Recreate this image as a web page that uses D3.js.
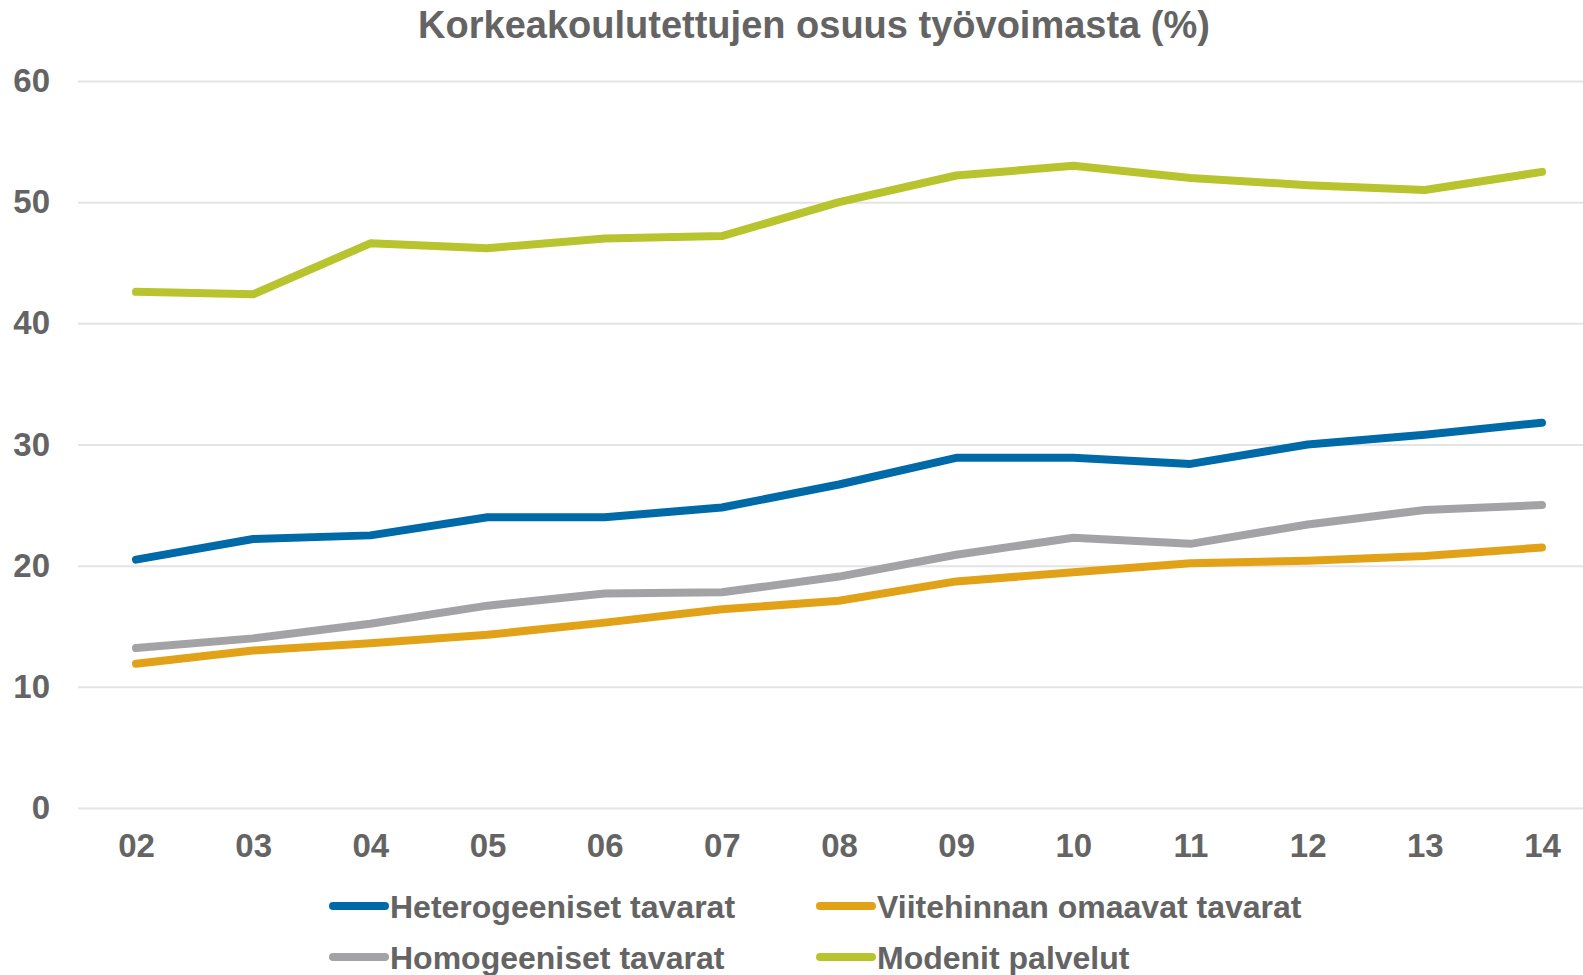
<!DOCTYPE html>
<html>
<head>
<meta charset="utf-8">
<script src="https://cdn.jsdelivr.net/npm/d3@7"></script>
<style>
  body { margin: 0; background: #fff; }
  svg text { font-family: "Liberation Sans", Arial, sans-serif; font-weight: bold; fill: #646464; }
</style>
</head>
<body>
<svg width="1583" height="975"></svg>
<script>
// vuodet ja sarjat
var years = ["02","03","04","05","06","07","08","09","10","11","12","13","14"];
var heterogeeniset = [20.5,22.2,22.5,24.0,24.0,24.8,26.7,28.9,28.9,28.4,30.0,30.8,31.8];
var viitehinnan    = [11.9,13.0,13.6,14.3,15.3,16.4,17.1,18.7,19.45,20.2,20.4,20.8,21.5];
var homogeeniset   = [13.2,14.0,15.2,16.7,17.7,17.8,19.1,20.9,22.3,21.8,23.4,24.6,25.0];
var modenit        = [42.6,42.4,46.6,46.2,47.0,47.2,50.0,52.2,53.0,52.0,51.4,51.0,52.5];
var yTicks = [0,10,20,30,40,50,60];

var seriesNames = ["Heterogeeniset tavarat","Viitehinnan omaavat tavarat","Homogeeniset tavarat","Modenit palvelut"];
var seriesColors = ["#006aa9","#e2a218","#a3a3a5","#b8c42e"];
var seriesData = [heterogeeniset, viitehinnan, homogeeniset, modenit];

var svg = d3.select("svg");

var x = d3.scalePoint().domain(years).range([136, 1542]);
var y = d3.scaleLinear().domain([0, 60]).range([808, 81]);

// otsikko
svg.append("text")
  .attr("x", 814).attr("y", 38)
  .attr("text-anchor", "middle")
  .attr("font-size", "38px")
  .text("Korkeakoulutettujen osuus työvoimasta (%)");

// y-akseli + ruudukko
var yAxis = d3.axisLeft(y).tickValues(yTicks).tickSize(-(1583 - 78)).tickPadding(28);
var gy = svg.append("g").attr("transform", "translate(78,0)").call(yAxis);
gy.select(".domain").remove();
gy.selectAll(".tick line").attr("stroke", "#e4e4e4").attr("stroke-width", 2);
gy.selectAll(".tick text")
  .attr("font-size", "33px")
  .attr("fill", "#646464")
  .attr("font-family", "Liberation Sans, Arial, sans-serif")
  .attr("font-weight", "bold");

// x-akseli
var xAxis = d3.axisBottom(x).tickSize(0).tickPadding(0);
var gx = svg.append("g").attr("transform", "translate(0,834)").call(xAxis);
gx.select(".domain").remove();
gx.selectAll(".tick text")
  .attr("font-size", "33px")
  .attr("fill", "#646464")
  .attr("font-family", "Liberation Sans, Arial, sans-serif")
  .attr("font-weight", "bold");

// viivat
var line = d3.line()
  .x(function(d, i) { return x(years[i]); })
  .y(function(d) { return y(d); });

seriesData.forEach(function(s, i) {
  svg.append("path")
    .datum(s)
    .attr("fill", "none")
    .attr("stroke", seriesColors[i])
    .attr("stroke-width", 8)
    .attr("stroke-linecap", "round")
    .attr("stroke-linejoin", "round")
    .attr("d", line);
});

// selite
var legendPos = [[333, 906], [820, 906], [333, 957], [820, 957]];
seriesNames.forEach(function(name, i) {
  var p = legendPos[i];
  var lg = svg.append("g").attr("transform", "translate(" + p[0] + "," + p[1] + ")");
  lg.append("line")
    .attr("x1", 0).attr("x2", 52).attr("y1", 0).attr("y2", 0)
    .attr("stroke", seriesColors[i]).attr("stroke-width", 8).attr("stroke-linecap", "round");
  lg.append("text")
    .attr("x", 57).attr("y", 12)
    .attr("font-size", "32px")
    .text(name);
});
</script>
</body>
</html>
